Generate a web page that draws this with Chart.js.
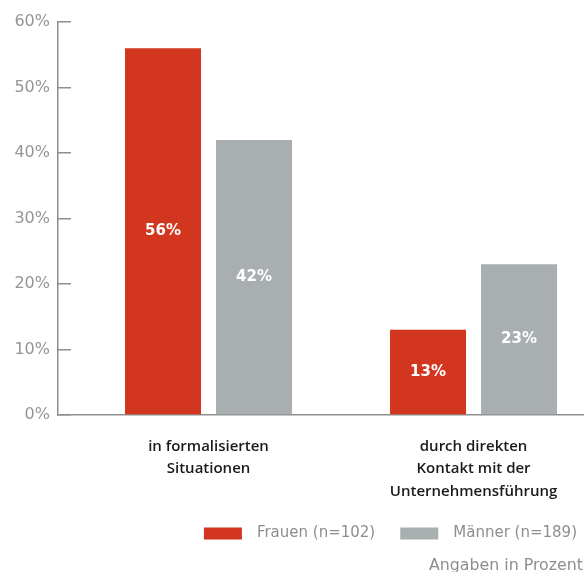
<!DOCTYPE html>
<html>
<head>
<meta charset="utf-8">
<script src="https://cdn.jsdelivr.net/npm/chart.js@4"></script>
<style>
  html, body { margin: 0; padding: 0; background: #fff; }
  #wrap { width: 586px; height: 572px; }
</style>
</head>
<body>
<div id="wrap"><canvas id="chart"></canvas></div>
<script>
// Kategorien (mehrzeilig) und Werte
const kategorien = [
    ['in formalisierten', 'Situationen'],
    ['durch direkten', 'Kontakt mit der', 'Unternehmensführung']
];
const frauenWerte = [56, 13];
const maennerWerte = [42, 23];
const yTicks = [0, 10, 20, 30, 40, 50, 60];

const rot = '#d2361e';
const grau = '#a9afb1';
const achsenGrau = '#8e8e8e';

// Werte in die Balken schreiben (Mitte des Balkens)
const balkenText = {
    id: 'balkenText',
    afterDatasetsDraw(chart) {
        const ctx = chart.ctx;
        ctx.save();
        ctx.fillStyle = '#ffffff';
        ctx.font = 'bold 15px "DejaVu Sans"';
        ctx.textAlign = 'center';
        ctx.textBaseline = 'middle';
        chart.data.datasets.forEach((ds, i) => {
            chart.getDatasetMeta(i).data.forEach((bar, j) => {
                ctx.fillText(ds.data[j].y + '%', bar.x, (bar.y + bar.base) / 2);
            });
        });
        ctx.restore();
    }
};

const ctx = document.getElementById('chart').getContext('2d');
new Chart(ctx, {
    type: 'bar',
    data: {
        datasets: [
            {
                label: 'Frauen (n=102)',
                data: frauenWerte.map((v, i) => ({ x: i, y: v })),
                backgroundColor: rot
            },
            {
                label: 'Männer (n=189)',
                data: maennerWerte.map((v, i) => ({ x: i, y: v })),
                backgroundColor: grau
            }
        ]
    },
    options: {
        responsive: true,
        maintainAspectRatio: false,
        animation: false,
        categoryPercentage: 0.687,
        barPercentage: 0.835,
        layout: { padding: { top: 22, right: 3, left: 0, bottom: 0 } },
        plugins: {
            tooltip: { enabled: false },
            legend: {
                position: 'bottom',
                align: 'end',
                labels: {
                    boxWidth: 38,
                    boxHeight: 12,
                    padding: 6,
                    color: achsenGrau,
                    font: { family: '"DejaVu Sans"', size: 15 },
                    // etwas mehr Abstand zwischen Kästchen und Text bzw. zwischen den Einträgen
                    generateLabels: (chart) => {
                        const items = Chart.defaults.plugins.legend.labels.generateLabels(chart);
                        items.forEach((it, i) => {
                            it.text = '\u2002' + it.text + (i < items.length - 1 ? '    ' : '');
                        });
                        return items;
                    }
                }
            },
            subtitle: {
                display: true,
                text: 'Angaben in Prozent',
                position: 'bottom',
                align: 'end',
                color: achsenGrau,
                font: { family: '"DejaVu Sans"', size: 15.8, weight: '400', lineHeight: 0.76 },
                padding: { top: 9, bottom: 0 }
            }
        },
        scales: {
            x: {
                type: 'linear',
                offset: false,
                min: -0.568,
                max: 1.413,
                afterBuildTicks: (scale) => {
                    scale.ticks = kategorien.map((k, i) => ({ value: i }));
                },
                afterFit: (scale) => { scale.height = 105; },
                grid: { display: false, drawTicks: false, offset: false },
                border: { display: true, color: achsenGrau, width: 1.5 },
                ticks: {
                    padding: 20,
                    maxRotation: 0,
                    autoSkip: false,
                    color: '#1a1a1a',
                    font: { family: '"Open Sans"', size: 15, weight: '600', lineHeight: 1.5 },
                    callback: (value) => kategorien[value]
                }
            },
            y: {
                min: 0,
                max: 60,
                afterBuildTicks: (scale) => {
                    scale.ticks = yTicks.map(v => ({ value: v }));
                },
                afterFit: (scale) => {
                    scale.width = 58;
                    scale.paddingTop = 0;
                    scale.paddingBottom = 0;
                },
                grid: {
                    drawOnChartArea: false,
                    drawTicks: true,
                    tickLength: -13,
                    color: achsenGrau,
                    lineWidth: 1.5
                },
                border: { display: true, color: achsenGrau, width: 1.5 },
                ticks: {
                    padding: 21,
                    color: '#959595',
                    font: { family: '"DejaVu Sans"', size: 16 },
                    callback: (v) => v + '%'
                }
            }
        }
    },
    plugins: [balkenText]
});
</script>
</body>
</html>
